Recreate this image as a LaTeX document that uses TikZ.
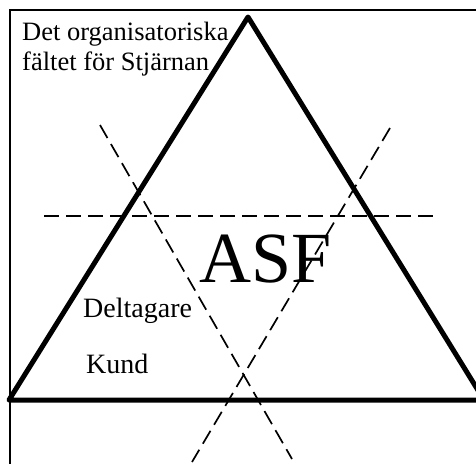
\documentclass[tikz,border=0pt]{standalone}
\usepackage{fontspec}
\setmainfont{Liberation Serif}
\begin{document}
\begin{tikzpicture}[x=1pt,y=-1pt,
  frame/.style={line width=2pt},
  tri/.style={line width=5pt,line join=round},
  dline/.style={line width=1.7pt,dash pattern=on 15pt off 7pt},
  lbl/.style={inner sep=0pt,anchor=base west,font=\fontsize{26.5}{30}\selectfont},
  lblb/.style={inner sep=0pt,anchor=base west,font=\fontsize{28}{32}\selectfont},
  big/.style={inner sep=0pt,anchor=base west,font=\fontsize{72}{72}\selectfont}]
\useasboundingbox (0,0) rectangle (476,463);
\clip (0,0) rectangle (476,463);
\fill[white] (0,0) rectangle (476,463);
% outer frame (extends beyond the picture)
\draw[frame] (10,10) rectangle (495,485);
% triangle
\coordinate (L) at (9,400);
\coordinate (T) at (248,17);
\coordinate (R) at (484,400);
\draw[tri] (L) -- (T) -- (R) -- cycle;
% dashed lines
\coordinate (h1) at (44,216);
\coordinate (h2) at (435,216);
\coordinate (a1) at (100,125);
\coordinate (a2) at (292,459);
\coordinate (b1) at (390,128);
\coordinate (b2) at (192,462);
\draw[dline] (h1) -- (h2);
\draw[dline] (a1) -- (a2);
\draw[dline] (b1) -- (b2);
% texts
\node[lbl] (t1) at (22,40) {Det organisatoriska};
\node[lbl] (t2) at (22,70) {fältet för Stjärnan};
\node[big] (asf) at (199,282) {ASF};
\node[lblb] (delt) at (83,317) {Deltagare};
\node[lblb] (kund) at (86,373) {Kund};
\end{tikzpicture}
\end{document}
